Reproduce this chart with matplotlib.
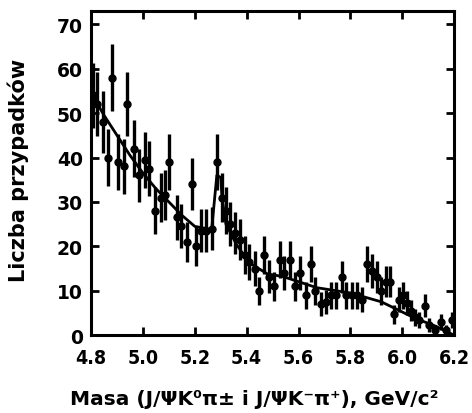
import matplotlib
matplotlib.use("Agg")
import matplotlib.pyplot as plt
import numpy as np

# measured points (mass in GeV/c^2, number of events)
mass = [4.807, 4.824, 4.845, 4.864, 4.879, 4.902, 4.928, 4.940, 4.967, 4.984,
        5.006, 5.025, 5.048, 5.068, 5.085, 5.101, 5.130, 5.146, 5.169, 5.188,
        5.205, 5.222, 5.242, 5.267, 5.285, 5.305, 5.319, 5.336, 5.355, 5.375,
        5.394, 5.409, 5.431, 5.449, 5.467, 5.488, 5.506, 5.527, 5.545, 5.566,
        5.587, 5.606, 5.628, 5.647, 5.664, 5.685, 5.706, 5.727, 5.745, 5.766,
        5.785, 5.805, 5.826, 5.843, 5.866, 5.884, 5.901, 5.919, 5.936, 5.951,
        5.970, 5.986, 6.003, 6.020, 6.034, 6.049, 6.065, 6.086, 6.105, 6.128,
        6.148, 6.169, 6.192]
counts = [54, 52, 48, 40, 58, 39, 38, 52, 42, 36,
          39.5, 37.5, 28, 31, 31.5, 39, 26.5, 24.5, 21, 34,
          20, 23.5, 23.5, 24, 39, 31, 28, 25, 23, 21.5,
          18, 16.5, 15, 10, 18, 13.2, 11, 17, 14, 17,
          11, 14, 9, 16, 10, 7, 7.5, 9, 9, 13,
          9, 9, 9, 8, 16, 14.5, 13, 10, 12, 12,
          4.7, 8, 9, 7.2, 5.5, 4, 3.4, 6.6, 2.3, 1.2,
          3, 1.2, 3.4]

# fitted curve (background + peak)
fit_mass = [4.80, 4.85, 4.90, 4.95, 5.00, 5.05, 5.10, 5.15, 5.20, 5.265,
            5.285, 5.30, 5.305, 5.32, 5.36, 5.41, 5.48, 5.54, 5.67, 5.80,
            5.92, 6.05, 6.13, 6.20]
fit_vals = [54.5, 49.5, 45, 40.5, 36.5, 33, 30, 27, 24.5, 23.8,
            36, 35.5, 31, 25, 20.5, 16.3, 13.8, 13.2, 10.7, 9.5,
            7.5, 3.8, 2.0, 0.0]

xticks = [4.8, 5.0, 5.2, 5.4, 5.6, 5.8, 6.0, 6.2]
yticks = [0, 10, 20, 30, 40, 50, 60, 70]

plt.rcParams['font.family'] = ['DejaVu Sans']
plt.rcParams['font.weight'] = 'bold'

fig = plt.figure(figsize=(4.72, 4.14), dpi=100)
ax = fig.add_axes([0.193, 0.188, 0.769, 0.783])

ax.errorbar(mass, counts, yerr=np.sqrt(counts), fmt='o', color='black',
            ms=5, elinewidth=2.4, capsize=0)
ax.plot(fit_mass, fit_vals, color='black', lw=2)

ax.set_xlim(4.8, 6.2)
ax.set_ylim(0, 73)
ax.set_xticks(xticks)
ax.set_xticklabels([f"{t:.1f}" for t in xticks], fontsize=14, fontweight='bold',
                   fontstretch='condensed')
ax.set_yticks(yticks)
ax.set_yticklabels([str(t) for t in yticks], fontsize=13.5, fontweight='bold')
ax.tick_params(direction='in', length=6, width=2, top=True, right=True, pad=6)
ax.tick_params(axis='x', pad=9)
for s in ax.spines.values():
    s.set_linewidth(2.2)

ax.set_xlabel("Masa (J/ΨK⁰π± i J/ΨK⁻π⁺), GeV/c²", fontsize=14.5, fontweight='bold')
ax.xaxis.set_label_coords(0.449, -0.165)
ax.set_ylabel("Liczba przypadków", fontsize=15, fontweight='bold')
ax.yaxis.set_label_coords(-0.172, 0.512)

fig.savefig("out.png", dpi=100)
